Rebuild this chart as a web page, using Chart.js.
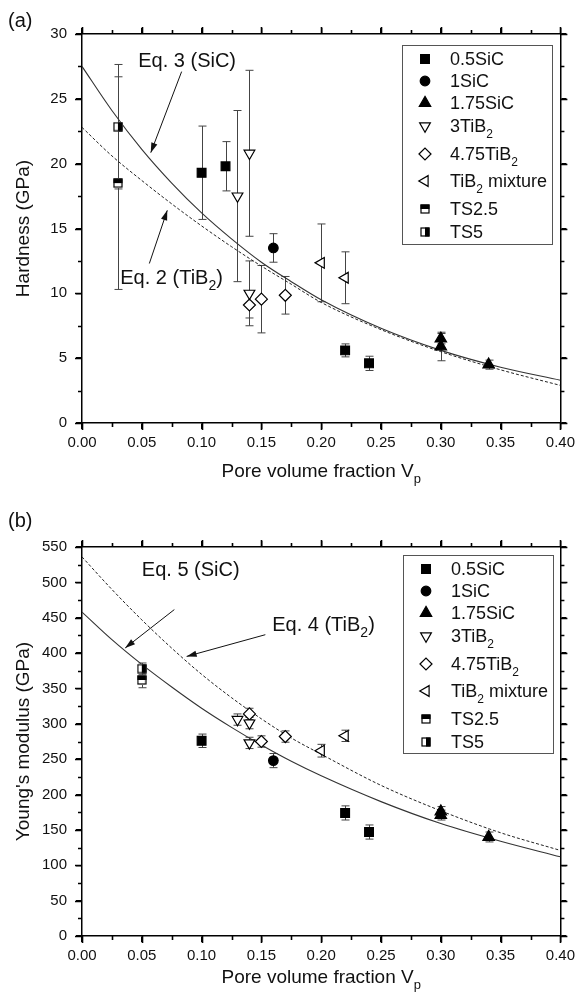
<!DOCTYPE html>
<html><head><meta charset="utf-8">
<script src="https://cdn.jsdelivr.net/npm/chart.js@4.4.0/dist/chart.umd.min.js"></script>
<style>
html,body{margin:0;padding:0;background:#fff;}
#wrap{position:relative;width:580px;height:1001px;overflow:hidden;}
canvas{position:absolute;left:0;}
</style></head><body>
<div id="wrap">
<canvas id="c1" width="580" height="500" style="top:0;width:580px;height:500px"></canvas>
<canvas id="c2" width="580" height="501" style="top:500px;width:580px;height:501px"></canvas>
</div>
<script>
// ---------- DATA ----------
const xTickVals = [0, 0.05, 0.10, 0.15, 0.20, 0.25, 0.30, 0.35, 0.40];
const hTickVals = [0, 5, 10, 15, 20, 25, 30];
const eTickVals = [0, 50, 100, 150, 200, 250, 300, 350, 400, 450, 500, 550];
const seriesNames = ['0.5SiC', '1SiC', '1.75SiC', '3TiB_2', '4.75TiB_2', 'TiB_2 mixture', 'TS2.5', 'TS5'];

// Hardness (GPa): [Vp, value, error]
const H_05SiC  = [[0.10, 19.3, 3.6], [0.12, 19.8, 1.9], [0.22, 5.6, 0.5], [0.24, 4.6, 0.55]];
const H_1SiC   = [[0.16, 13.5, 1.1]];
const H_175SiC = [[0.30, 6.5, 0.4], [0.30, 5.9, 1.1], [0.34, 4.5, 0.35]];
const H_3TiB2  = [[0.13, 17.5, 6.6], [0.14, 20.8, 6.4], [0.14, 10.0, 2.5]];
const H_475TiB2= [[0.14, 9.1, 1.0], [0.15, 9.55, 2.6], [0.17, 9.85, 1.45]];
const H_mix    = [[0.20, 12.35, 3.0], [0.22, 11.2, 2.0]];
const H_TS25   = [[0.03, 18.5, 8.2]];
const H_TS5    = [[0.03, 22.85, 4.8]];

// Young's modulus (GPa): [Vp, value, error]
const E_05SiC  = [[0.10, 276, 9.5], [0.22, 174, 10], [0.24, 147, 10]];
const E_1SiC   = [[0.16, 248, 10]];
const E_175SiC = [[0.30, 176, 7], [0.30, 171, 7], [0.34, 140, 7]];
const E_3TiB2  = [[0.13, 306, 8], [0.14, 301, 8], [0.14, 273, 8]];
const E_475TiB2= [[0.14, 314, 8], [0.15, 275, 8], [0.17, 282, 8]];
const E_mix    = [[0.20, 262, 9], [0.22, 283, 8]];
const E_TS25   = [[0.05, 362, 11]];
const E_TS5    = [[0.05, 378, 8]];

// Model curves
const curveX = [0, 0.025, 0.05, 0.075, 0.10, 0.125, 0.15, 0.175, 0.20, 0.25, 0.30, 0.35, 0.40];
const H_eq3  = [27.5, 24.1, 21.1, 18.5, 16.2, 14.2, 12.4, 10.9, 9.5, 7.3, 5.6, 4.3, 3.3];
const H_eq2  = [22.8, 20.6, 18.7, 16.9, 15.2, 13.6, 12.1, 10.7, 9.3, 7.2, 5.5, 4.1, 2.9];
const E_eq5  = [458, 419, 384, 352, 322, 295, 270, 247, 226.5, 190, 159, 134, 112];
const E_eq4  = [536, 490, 447, 407, 370, 337, 307, 280, 257, 213, 177, 146, 121];

// ---------- STYLE ----------
const FONT = '"Liberation Sans", Arial, Helvetica, sans-serif';

function halfSquare(kind) {
  const c = document.createElement('canvas');
  c.width = 10; c.height = 10;
  const g = c.getContext('2d');
  g.fillStyle = '#fff'; g.fillRect(0, 0, 10, 10);
  g.fillStyle = '#000';
  if (kind === 'top') g.fillRect(0.5, 0.5, 9, 4.5);
  else g.fillRect(5, 0.5, 4.5, 9);
  g.strokeStyle = '#000'; g.lineWidth = 1.2;
  g.strokeRect(1, 1, 8, 8);
  return c;
}
const imgTS25 = halfSquare('top');
const imgTS5 = halfSquare('right');

const markStyles = [
  {pointStyle: 'rect', rotation: 0, radius: 6.2, fill: '#000'},
  {pointStyle: 'circle', rotation: 0, radius: 4.8, fill: '#000'},
  {pointStyle: 'triangle', rotation: 0, radius: 6.6, fill: '#000'},
  {pointStyle: 'triangle', rotation: 180, radius: 6.2, fill: '#fff'},
  {pointStyle: 'rectRot', rotation: 0, radius: 6, fill: '#fff'},
  {pointStyle: 'triangle', rotation: -90, radius: 6.2, fill: '#fff'},
  {pointStyle: imgTS25, rotation: 0, radius: 5, fill: '#000'},
  {pointStyle: imgTS5, rotation: 0, radius: 5, fill: '#000'}
];

function pointDataset(arr, i) {
  const s = markStyles[i];
  return {
    type: 'scatter', label: seriesNames[i],
    data: arr.map(d => ({x: d[0], y: d[1]})),
    errs: arr.map(d => d[2]),
    pointStyle: s.pointStyle, rotation: s.rotation, pointRadius: s.radius,
    pointHoverRadius: s.radius,
    backgroundColor: s.fill, borderColor: '#000', borderWidth: 1.2, order: 0
  };
}
function curveDataset(ys, dashed) {
  return {
    type: 'line', label: '',
    data: curveX.map((x, i) => ({x: x, y: ys[i]})),
    borderColor: dashed ? '#222' : '#333', borderWidth: dashed ? 1 : 1.1,
    borderDash: dashed ? [3, 2] : [], pointRadius: 0, fill: false,
    cubicInterpolationMode: 'monotone', order: 10, isCurve: true
  };
}

// ---------- TEXT HELPERS ----------
function segs(t) {
  const out = []; const re = /_(\w)/g; let last = 0, m;
  while ((m = re.exec(t))) {
    if (m.index > last) out.push({t: t.slice(last, m.index), sub: false});
    out.push({t: m[1], sub: true}); last = re.lastIndex;
  }
  if (last < t.length) out.push({t: t.slice(last), sub: false});
  return out;
}
function drawRich(ctx, text, x, y, size, align) {
  const ss = segs(text); const sub = Math.round(size * 0.68);
  let w = 0;
  ss.forEach(s => { ctx.font = (s.sub ? sub : size) + 'px ' + FONT; s.w = ctx.measureText(s.t).width; w += s.w; });
  let cx = align === 'center' ? x - w / 2 : (align === 'right' ? x - w : x);
  const base = y + size * 0.36;
  ctx.textAlign = 'left'; ctx.textBaseline = 'alphabetic';
  ss.forEach(s => {
    ctx.font = (s.sub ? sub : size) + 'px ' + FONT;
    ctx.fillText(s.t, cx, s.sub ? base + size * 0.3 : base);
    cx += s.w;
  });
}
function arrow(ctx, x1, y1, x2, y2) {
  ctx.beginPath(); ctx.moveTo(x1, y1); ctx.lineTo(x2, y2); ctx.stroke();
  const a = Math.atan2(y2 - y1, x2 - x1), L = 10, W = 3.2;
  ctx.beginPath();
  ctx.moveTo(x2, y2);
  ctx.lineTo(x2 - L * Math.cos(a) + W * Math.sin(a), y2 - L * Math.sin(a) - W * Math.cos(a));
  ctx.lineTo(x2 - L * Math.cos(a) - W * Math.sin(a), y2 - L * Math.sin(a) + W * Math.cos(a));
  ctx.closePath(); ctx.fill();
}

// ---------- PLUGINS ----------
const errorBars = {
  id: 'errorBars',
  beforeDatasetsDraw(chart) {
    const {ctx, scales: {x, y}} = chart;
    ctx.save(); ctx.strokeStyle = '#444'; ctx.lineWidth = 1;
    chart.data.datasets.forEach(ds => {
      if (!ds.errs) return;
      ds.data.forEach((p, i) => {
        const e = ds.errs[i]; const px = Math.round(x.getPixelForValue(p.x)) + 0.5;
        const y1 = y.getPixelForValue(p.y + e), y2 = y.getPixelForValue(p.y - e);
        ctx.beginPath();
        ctx.moveTo(px, y1); ctx.lineTo(px, y2);
        ctx.moveTo(px - 4, y1); ctx.lineTo(px + 4, y1);
        ctx.moveTo(px - 4, y2); ctx.lineTo(px + 4, y2);
        ctx.stroke();
      });
    });
    ctx.restore();
  }
};

const deco = {
  id: 'deco',
  afterDraw(chart, args, o) {
    const ctx = chart.ctx, a = chart.chartArea, x = chart.scales.x, y = chart.scales.y;
    ctx.save();
    // major + minor tick marks, outward on all four sides
    ctx.strokeStyle = '#000'; ctx.lineWidth = 1.6; ctx.setLineDash([]);
    const yv = o.panel === '(a)' ? hTickVals : eTickVals;
    const xt = [], yt = [];
    xTickVals.forEach((v, i) => { xt.push([v, 7]); if (i < xTickVals.length - 1) xt.push([(v + xTickVals[i + 1]) / 2, 4]); });
    yv.forEach((v, i) => { yt.push([v, 7]); if (i < yv.length - 1) yt.push([(v + yv[i + 1]) / 2, 4]); });
    ctx.beginPath();
    xt.forEach(([v, L]) => {
      const px = Math.round(x.getPixelForValue(v)) + 0.5;
      ctx.moveTo(px, a.bottom); ctx.lineTo(px, a.bottom + L);
      ctx.moveTo(px, a.top); ctx.lineTo(px, a.top - L);
    });
    yt.forEach(([v, L]) => {
      const py = Math.round(y.getPixelForValue(v)) + 0.5;
      ctx.moveTo(a.left, py); ctx.lineTo(a.left - L, py);
      ctx.moveTo(a.right, py); ctx.lineTo(a.right + L, py);
    });
    ctx.stroke();

    ctx.fillStyle = '#111'; ctx.strokeStyle = '#111';
    drawRich(ctx, o.panel, 8, o.panelY, 20, 'left');
    drawRich(ctx, 'Pore volume fraction V_p', (a.left + a.right) / 2, o.xTitleY, 19, 'center');
    ctx.save(); ctx.translate(22, (a.top + a.bottom) / 2); ctx.rotate(-Math.PI / 2);
    drawRich(ctx, o.yTitle, 0, 0, 19, 'center'); ctx.restore();
    o.eqs.forEach(e => drawRich(ctx, e.t, x.getPixelForValue(e.x), y.getPixelForValue(e.y), 20, 'left'));
    ctx.lineWidth = 1; ctx.fillStyle = '#111';
    o.arrows.forEach(r => arrow(ctx, x.getPixelForValue(r[0]), y.getPixelForValue(r[1]), x.getPixelForValue(r[2]), y.getPixelForValue(r[3])));
    const L = o.legend;
    ctx.fillStyle = '#fff'; ctx.fillRect(L.x, L.y, L.w, L.h);
    ctx.strokeStyle = '#555'; ctx.lineWidth = 1; ctx.strokeRect(L.x + 0.5, L.y + 0.5, L.w, L.h);
    const pointDs = chart.data.datasets.filter(d => !d.isCurve);
    pointDs.forEach((ds, i) => {
      const ry = L.y + L.rows[i];
      ctx.fillStyle = ds.backgroundColor; ctx.strokeStyle = '#000'; ctx.lineWidth = 1.2;
      Chart.helpers.drawPoint(ctx, {pointStyle: ds.pointStyle, rotation: ds.rotation, radius: ds.pointRadius, borderWidth: 1.2}, L.x + 23, ry);
      ctx.fillStyle = '#111';
      drawRich(ctx, ds.label, L.x + 48, ry, 18, 'left');
    });
    ctx.restore();
  }
};

function makeScales(ymax, ystep, topH, botH) {
  const grid = {display: true, drawOnChartArea: false, drawTicks: true, tickLength: 6,
    color: '#000', tickColor: '#000', tickWidth: 1.4, lineWidth: 1.4};
  const border = {display: true, color: '#000', width: 1.5};
  return {
    x: {type: 'linear', position: 'bottom', min: 0, max: 0.4, grid: grid, border: border,
      ticks: {stepSize: 0.05, autoSkip: false, maxRotation: 0, padding: 5, color: '#111',
        font: {family: FONT, size: 15}, callback: v => Number(v).toFixed(2)},
      afterFit: s => { s.height = botH; }},
    x2: {type: 'linear', position: 'top', min: 0, max: 0.4, grid: grid, border: border,
      ticks: {stepSize: 0.05, display: false}, afterFit: s => { s.height = topH; }},
    y: {type: 'linear', position: 'left', min: 0, max: ymax, grid: grid, border: border,
      ticks: {stepSize: ystep, padding: 9, color: '#111', font: {family: FONT, size: 15}},
      afterFit: s => { s.width = 82; }},
    y2: {type: 'linear', position: 'right', min: 0, max: ymax, grid: grid, border: border,
      ticks: {stepSize: ystep, display: false}, afterFit: s => { s.width = 18; }}
  };
}

const legendRows = [14, 36, 58, 81, 109, 136, 164, 187];

function build(id, pts, curves, ymax, ystep, topH, botH, deco_) {
  return new Chart(document.getElementById(id), {
    type: 'scatter',
    data: {datasets: curves.concat(pts)},
    options: {
      responsive: false, animation: false, devicePixelRatio: 1,
      layout: {padding: 0},
      plugins: {legend: {display: false}, tooltip: {enabled: false}, deco: deco_},
      scales: makeScales(ymax, ystep, topH, botH)
    },
    plugins: [errorBars, deco]
  });
}

build('c1',
  [H_05SiC, H_1SiC, H_175SiC, H_3TiB2, H_475TiB2, H_mix, H_TS25, H_TS5].map(pointDataset),
  [curveDataset(H_eq3, false), curveDataset(H_eq2, true)],
  30, 5, 34, 77,
  {panel: '(a)', panelY: 20, xTitleY: 470, yTitle: 'Hardness (GPa)',
   eqs: [{t: 'Eq. 3 (SiC)', x: 0.047, y: 28.0}, {t: 'Eq. 2 (TiB_2)', x: 0.032, y: 11.3}],
   arrows: [[0.0833, 27.1, 0.0575, 20.85], [0.0563, 12.3, 0.0713, 16.4]],
   legend: {x: 402, y: 45, w: 150, h: 199, rows: legendRows}});

build('c2',
  [E_05SiC, E_1SiC, E_175SiC, E_3TiB2, E_475TiB2, E_mix, E_TS25, E_TS5].map(pointDataset),
  [curveDataset(E_eq5, false), curveDataset(E_eq4, true)],
  550, 50, 47, 65,
  {panel: '(b)', panelY: 20, xTitleY: 476, yTitle: "Young's modulus (GPa)",
   eqs: [{t: 'Eq. 5 (SiC)', x: 0.05, y: 519}, {t: 'Eq. 4 (TiB_2)', x: 0.159, y: 442}],
   arrows: [[0.0772, 461.5, 0.0361, 407.2], [0.1533, 426, 0.0875, 395.3]],
   legend: {x: 403, y: 55, w: 150, h: 198, rows: legendRows}});
</script>
</body></html>
